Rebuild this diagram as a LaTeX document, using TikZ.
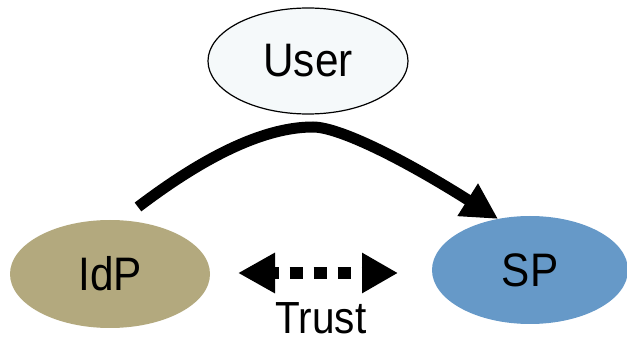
\documentclass[tikz,border=0pt]{standalone}
\usepackage{fontspec}
\setmainfont{Liberation Sans}[FakeStretch=0.9]
\usetikzlibrary{shapes.geometric,arrows.meta}
\definecolor{userfill}{RGB}{245,249,250}
\definecolor{idpfill}{RGB}{179,169,126}
\definecolor{spfill}{RGB}{102,153,200}
\begin{document}
\begin{tikzpicture}[x=1pt,y=-1pt,
  party/.style={ellipse,inner sep=0pt,outer sep=0pt,
    font=\fontsize{47}{55}\selectfont},
  flow/.style={line width=11pt,
    -{Triangle[length=36pt,width=36pt]}},
  trustlink/.style={line width=12pt,dash pattern=on 13pt off 11pt,dash phase=7pt,
    {Triangle[length=37pt,width=38pt]}-{Triangle[length=36pt,width=38pt]}},
  caption/.style={inner sep=0pt,outer sep=0pt,font=\fontsize{45}{54}\selectfont}]
  \useasboundingbox (0,0) rectangle (627,339);

  % the three parties
  \node[party,draw=black,line width=1.2pt,fill=userfill,
        minimum width=200pt,minimum height=106pt] (user) at (308,61) {User};
  \node[party,fill=idpfill,minimum width=200pt,minimum height=108pt] (idp) at (110,274) {IdP};
  \node[party,fill=spfill,minimum width=196pt,minimum height=108pt] (sp) at (530,270) {SP};

  % redirect of the user from the IdP over to the SP
  \coordinate (flowstart) at (138,207);
  \coordinate (apex) at (313,127);
  \draw[flow] (flowstart) .. controls (209,153) and (267,127) .. (apex)
                          .. controls (338,127) and (400,157) .. (sp.122);

  % trust relation between IdP and SP
  \coordinate (trustL) at (238,273);
  \coordinate (trustR) at (398,273);
  \draw[trustlink] (trustL) -- (trustR);
  \node[caption] (trust) at (321,318) {Trust};
\end{tikzpicture}
\end{document}
